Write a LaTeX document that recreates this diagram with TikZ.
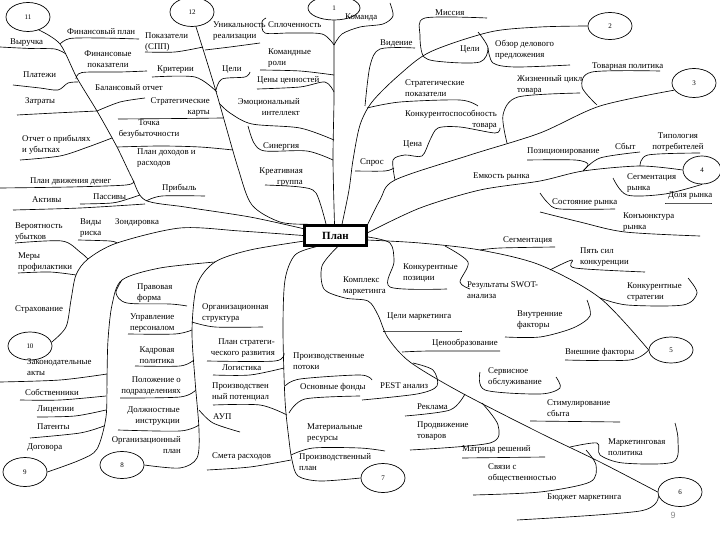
\documentclass[tikz,border=0pt]{standalone}
\usepackage{fontspec}
\setmainfont{Liberation Serif}
\newfontfamily\pagenofont{Liberation Sans}
\usetikzlibrary{shapes.geometric}

\begin{document}
\begin{tikzpicture}[x=1pt,y=-1pt,
  lbl/.style={anchor=west, inner sep=0pt, align=left, font=\fontsize{8.8}{10.5}\selectfont},
  lblr/.style={lbl, anchor=east, align=right},
  lblc/.style={lbl, anchor=center, align=center},
  oval/.style={draw, ellipse, line width=0.7pt, minimum width=44pt, minimum height=29pt, inner sep=0pt, font=\fontsize{7}{8}\selectfont},
  br/.style={line width=0.65pt}]
\fill[white] (0,0) rectangle (720,540);
\useasboundingbox (0,0) rectangle (720,540);

\node[draw, line width=2.6pt, minimum width=62pt, minimum height=20pt, font=\fontsize{11}{12}\selectfont\bfseries] (plan) at (335.5,235.5) {План};

\node[oval] (e11) at (28,17) {11};
\node[oval] (e12) at (192,12) {12};
\node[oval, minimum width=52pt, minimum height=24pt] (e1) at (334,8) {1};
\node[oval, minimum height=27pt] (e2) at (610,26) {2};
\node[oval] (e3) at (694,83) {3};
\node[oval, minimum width=38pt, minimum height=28pt] (e4) at (702,170) {4};
\node[oval, minimum height=26pt] (e5) at (671,350) {5};
\node[oval] (e6) at (680,492) {6};
\node[oval] (e7) at (383,478) {7};
\node[oval, minimum height=27pt] (e8) at (122,465) {8};
\node[oval] (e9) at (25,472) {9};
\node[oval, minimum height=28pt] (e10) at (30,346) {10};

\node[lbl] (finplan) at (67,32) {Финансовый план};
\node[lbl] (vyr) at (10,43) {Выручка};
\node[lblc] (finpok) at (108,59) {Финансовые\\показатели};
\node[lbl] (pokspp) at (145,42) {Показатели\\(СПП)};
\node[lbl] (krit) at (157,70) {Критерии};
\node[lbl] (plat) at (23,75) {Платежи};
\node[lbl] (balans) at (95,88) {Балансовый отчет};
\node[lbl] (zatr) at (25,102) {Затраты};
\node[lblr] (strkart) at (210,107) {Стратегические\\карты};
\node[lblc] (tochka) at (149,129) {Точка\\безубыточности};
\node[lbl] (otchet) at (22,145) {Отчет о прибылях\\и убытках};
\node[lbl] (pland) at (137,158) {План доходов и\\расходов};
\node[lbl] (pldv) at (30,181) {План движения денег};
\node[lbl] (prib) at (162,188) {Прибыль};
\node[lbl] (aktiv) at (32,200) {Активы};
\node[lbl] (passiv) at (93,197) {Пассивы};

\node[lbl] (unik) at (213,31) {Уникальность\\реализации};
\node[lbl] (celi1) at (222,70) {Цели};
\node[lbl] (splo) at (268,25) {Сплоченность};
\node[lbl] (komrol) at (268,58) {Командные\\роли};
\node[lbl] (ceny) at (257,80) {Цены ценностей};
\node[lblr] (emoc) at (300,107) {Эмоциональный\\интеллект};
\node[lbl] (siner) at (263,147) {Синергия};
\node[lblr] (kreat) at (303,177) {Креативная\\группа};
\node[lbl] (koman) at (345,17) {Команда};

\node[lbl] (missia) at (435,13) {Миссия};
\node[lbl] (viden) at (380,43) {Видение};
\node[lbl] (celi2) at (460,50) {Цели};
\node[lbl] (obzor) at (495,50) {Обзор делового\\предложения};
\node[lbl] (strpok) at (405,88) {Стратегические\\показатели};
\node[lbl] (zhizn) at (517,85) {Жизненный цикл\\товара};
\node[lbl] (tovpol) at (592,67) {Товарная политика};
\node[lblr] (konkur) at (497,120) {Конкурентоспособность\\товара};
\node[lbl] (cena) at (403,145) {Цена};
\node[lbl] (spros) at (360,163) {Спрос};
\node[lbl] (pozic) at (527,152) {Позиционирование};
\node[lbl] (sbyt) at (615,146) {Сбыт};
\node[lblc] (tipol) at (678,142) {Типология\\потребителей};
\node[lbl] (emkost) at (473,177) {Емкость рынка};
\node[lbl] (segmr) at (627,183) {Сегментация\\рынка};
\node[lbl] (dolya) at (668,196) {Доля рынка};
\node[lbl] (sost) at (552,203) {Состояние рынка};
\node[lbl] (konjun) at (623,222) {Конъюнктура\\рынка};

\node[lbl] (segm) at (503,240) {Сегментация};
\node[lbl] (pyat) at (580,257) {Пять сил\\конкуренции};
\node[lbl] (konstr) at (627,292) {Конкурентные\\стратегии};
\node[lbl] (vnesh) at (565,352) {Внешние факторы};
\node[lbl] (konpoz) at (403,273) {Конкурентные\\позиции};
\node[lbl] (kompl) at (343,286) {Комплекс\\маркетинга};
\node[lbl] (swot) at (467,290) {Результаты SWOT-\\анализа};
\node[lbl] (celimk) at (387,317) {Цели маркетинга};
\node[lbl] (vnutr) at (517,320) {Внутренние\\факторы};
\node[lbl] (ceno) at (432,343) {Ценообразование};

\node[lbl] (pest) at (380,386) {PEST анализ};
\node[lbl] (serv) at (488,377) {Сервисное\\обслуживание};
\node[lbl] (rekl) at (417,407) {Реклама};
\node[lbl] (stim) at (547,408) {Стимулирование\\сбыта};
\node[lbl] (prod) at (417,431) {Продвижение\\товаров};
\node[lbl] (matr) at (462,449) {Матрица решений};
\node[lbl] (mkpol) at (608,447) {Маркетинговая\\политика};
\node[lbl] (svyaz) at (488,473) {Связи с\\общественностью};
\node[lbl] (budzh) at (547,498) {Бюджет маркетинга};

\node[lbl] (prpot) at (293,361) {Производственные\\потоки};
\node[lbl] (osnf) at (300,387) {Основные фонды};
\node[lbl] (mater) at (307,433) {Материальные\\ресурсы};
\node[lbl] (prplan) at (299,462) {Производственный\\план};
\node[lbl] (orgstr) at (202,313) {Организационная\\структура};
\node[lblr] (plstr) at (275,348) {План стратеги-\\ческого развития};
\node[lbl] (logist) at (222,368) {Логистика};
\node[lbl] (prpotenc) at (212,392) {Производствен\\ный потенциал};
\node[lbl] (aup) at (213,417) {АУП};
\node[lbl] (smeta) at (212,457) {Смета расходов};

\node[lbl] (pravf) at (137,293) {Правовая\\форма};
\node[lbl] (uprp) at (130,323) {Управление\\персоналом};
\node[lblc] (kadr) at (157,355) {Кадровая\\политика};
\node[lblr] (polozh) at (181,386) {Положение о\\подразделениях};
\node[lblr] (dolzh) at (180,416) {Должностные\\инструкции};
\node[lblr] (orgpl) at (181,445) {Организационный\\план};
\node[lbl] (zakon) at (27,367) {Законодательные\\акты};
\node[lbl] (sobstv) at (25,392) {Собственники};
\node[lbl] (licen) at (37,409) {Лицензии};
\node[lbl] (patent) at (37,427) {Патенты};
\node[lbl] (dogov) at (27,448) {Договора};
\node[lbl] (veroy) at (15,232) {Вероятность\\убытков};
\node[lbl] (vidy) at (80,228) {Виды\\риска};
\node[lbl] (zond) at (115,223) {Зондировка};
\node[lbl] (mery) at (18,262) {Меры\\профилактики};
\node[lbl] (strah) at (15,310) {Страхование};

\node[font=\pagenofont\fontsize{9}{10}\selectfont, text=black!45] (pgno) at (673,515) {9};

\draw[br] plot[smooth] coordinates {(e11.-50) (60,44) (77,78) (97,111) (117,147) (132,178) (145,200) (185,207) (250,217) (plan.168)};
\draw[br] plot[smooth] coordinates {(60,44) (70,38.5) (100,38) (139,39)};
\draw[br] plot[smooth] coordinates {(0,47) (30,48.5) (55,49) (66,54)};
\draw[br] plot[smooth] coordinates {(76,79) (82,72.5) (120,72) (147,71)};
\draw[br] plot[smooth] coordinates {(13,85) (40,88) (58,90) (68,83) (78,82)};
\draw[br] plot[smooth] coordinates {(17,115) (55,113) (97,111)};
\draw[br] plot[smooth] coordinates {(97,111) (120,102) (145,98)};
\draw[br] plot[smooth] coordinates {(20,160) (60,156) (88,147) (112,138)};
\draw[br] plot[smooth] coordinates {(0,188) (70,187) (126,185) (134,181)};
\draw[br] plot[smooth] coordinates {(146,201) (162,196) (205,196)};
\draw[br] plot[smooth] coordinates {(80,204) (112,203) (128,199) (140,195)};
\draw[br] plot[smooth] coordinates {(13,210) (80,208) (145,204)};

\draw[br] plot[smooth] coordinates {(e12.-75) (215,88) (238,168) (252,205) (280,222) (plan.158)};
\draw[br] plot[smooth] coordinates {(205,50) (230,47) (260,43)};
\draw[br] plot[smooth] coordinates {(145,52) (175,52) (203,47)};
\draw[br] plot[smooth] coordinates {(216,90) (222,79) (245,77) (250,72)};
\draw[br] plot[smooth] coordinates {(152,77) (195,77) (217,92)};
\draw[br] plot[smooth] coordinates {(118,119) (180,118.5) (223,118)};
\draw[br] plot[smooth] coordinates {(117,147) (160,146) (200,147) (233,150)};
\draw[br] plot[smooth] coordinates {(220,104) (230,113) (252,124) (300,128) (334,140)};
\draw[br] plot[smooth] coordinates {(248,126) (254,143) (265,151) (307,151) (333,160)};

\draw[br] plot[smooth] coordinates {(e1.south) (334,60) (334,100) (333,160) (plan.95)};
\draw[br] plot[smooth] coordinates {(334,45) (322,34) (290,33) (265,33) (262,22) (266,18)};
\draw[br] plot[smooth] coordinates {(260,70) (300,71) (334,75)};
\draw[br] plot[smooth] coordinates {(257,89) (300,87) (325,82) (334,92)};
\draw[br] plot[smooth] coordinates {(265,185) (300,187) (316,193) (326,224)};
\draw[br] plot[smooth] coordinates {(390,3) (393,16) (383,24) (360,27) (342,34) (334,45)};

\draw[br] plot[smooth] coordinates {(plan.60) (349,190) (353,160) (360,125) (372,102) (398,76) (430,52) (490,32) (540,27) (e2.west)};
\draw[br] plot[smooth] coordinates {(415,48) (380,49) (370,66) (365,106)};
\draw[br] plot[smooth] coordinates {(367,108) (400,102) (460,100) (478,106)};
\draw[br] plot[smooth] coordinates {(487,18) (425,18) (420,35) (424,57) (445,62) (480,62) (488,48) (478,32)};
\draw[br] plot[smooth] coordinates {(488,48) (493,63) (515,67) (570,65)};

\draw[br] plot[smooth] coordinates {(plan.north east) (380,200) (395,180) (470,155) (540,133) (600,106) (e3.200)};
\draw[br] plot[smooth] coordinates {(395,180) (393,160) (405,155) (422,156) (430,140) (438,128) (460,127) (495,133) (500,128)};
\draw[br] plot[smooth] coordinates {(355,171) (385,171) (394,168)};
\draw[br] plot[smooth] coordinates {(507,143) (503,115) (518,97) (580,93)};
\draw[br] plot[smooth] coordinates {(660,71) (592,72) (582,87) (597,105)};

\draw[br] plot[smooth] coordinates {(plan.5) (420,208) (480,190) (540,181) (583,171) (640,166) (e4.west)};
\draw[br] plot[smooth] coordinates {(527,160) (575,160) (588,164) (583,171)};
\draw[br] plot[smooth] coordinates {(583,171) (600,158) (640,152)};
\draw[br] plot[smooth] coordinates {(640,166) (648,155) (700,153)};
\draw[br] plot[smooth] coordinates {(613,178) (627,195) (665,194) (e4.south)};
\draw[br] plot[smooth] coordinates {(665,203) (712,203)};
\draw[br] plot[smooth] coordinates {(540,193) (548,203) (560,209) (615,209)};
\draw[br] plot[smooth] coordinates {(540,212) (580,222) (625,232) (700,236)};

\draw[br] plot[smooth] coordinates {(plan.-8) (420,243) (480,250) (540,265) (600,298) (e5.west)};
\draw[br] plot[smooth] coordinates {(480,250) (500,248) (555,247)};
\draw[br] plot[smooth] coordinates {(550,270) (572,260) (575,268) (645,272)};
\draw[br] plot[smooth] coordinates {(600,298) (627,305) (683,305) (697,293) (688,278)};
\draw[br] plot[smooth] coordinates {(565,360) (630,360) (e5.west)};
\draw[br] plot[smooth] coordinates {(445,246) (468,262) (460,282) (470,289)};
\draw[br] plot[smooth] coordinates {(368,237) (390,243) (394,262) (390,287) (447,289)};
\draw[br] plot[smooth] coordinates {(587,300) (590,316) (573,328) (540,337) (505,337)};

\draw[br] plot[smooth] coordinates {(plan.-80) (322,266) (324,289) (345,298) (368,301) (378,315) (388,338) (410,362) (460,392) (540,433) (600,462) (e6.west)};
\draw[br] plot[smooth] coordinates {(383,331) (420,331) (462,331)};
\draw[br] plot[smooth] coordinates {(402,352) (430,351) (500,351)};
\draw[br] plot[smooth] coordinates {(362,400) (417,394) (437,386) (433,370) (413,363)};
\draw[br] plot[smooth] coordinates {(405,416) (450,410) (465,394)};
\draw[br] plot[smooth] coordinates {(410,450) (490,443) (498,425) (482,403)};
\draw[br] plot[smooth] coordinates {(462,458) (545,457)};
\draw[br] plot[smooth] coordinates {(480,372) (485,390) (540,394) (560,388) (556,377)};
\draw[br] plot[smooth] coordinates {(530,421) (620,422)};
\draw[br] plot[smooth] coordinates {(570,447) (597,443) (600,455) (623,463) (673,462) (678,440) (675,423)};
\draw[br] plot[smooth] coordinates {(473,495) (540,492) (590,482) (596,465) (586,450)};
\draw[br] plot[smooth] coordinates {(517,520) (640,511) (e6.190)};

\draw[br] plot[smooth] coordinates {(plan.-150) (295,255) (285,280) (283,330) (285,400) (289,440) (292,460) (298,476) (320,481) (e7.west)};
\draw[br] plot[smooth] coordinates {(285,386) (300,379) (360,375) (372,380)};
\draw[br] plot[smooth] coordinates {(289,413) (305,399) (360,396)};
\draw[br] plot[smooth] coordinates {(291,455) (313,448) (360,448) (385,451)};
\draw[br] plot[smooth] coordinates {(213,375) (250,375) (284,368)};
\draw[br] plot[smooth] coordinates {(213,405) (260,405) (287,415)};
\draw[br] plot[smooth] coordinates {(207,470) (250,467) (291,460)};
\draw[br] plot[smooth] coordinates {(207,361) (275,361) (284,353)};

\draw[br] plot[smooth] coordinates {(plan.190) (250,250) (215,262) (197,285) (192,330) (195,380) (199,430) (197,458) (180,468) (e8.east)};
\draw[br] plot[smooth] coordinates {(192,322) (215,327) (263,327)};
\draw[br] plot[smooth] coordinates {(199,410) (213,423) (240,432)};
\draw[br] plot[smooth] coordinates {(128,334) (175,334) (192,330)};
\draw[br] plot[smooth] coordinates {(135,366) (180,366) (194,360)};
\draw[br] plot[smooth] coordinates {(120,398) (180,397) (196,390)};
\draw[br] plot[smooth] coordinates {(118,430) (180,431) (199,425)};

\draw[br] plot[smooth] coordinates {(e9.east) (80,460) (97,449) (106,417) (107,377) (108,340) (112,305) (122,280) (160,268) (215,262)};
\draw[br] plot[smooth] coordinates {(0,382) (60,380) (107,374)};
\draw[br] plot[smooth] coordinates {(20,400) (60,400) (106,396)};
\draw[br] plot[smooth] coordinates {(37,417) (75,416) (106,410)};
\draw[br] plot[smooth] coordinates {(30,438) (80,433) (104,426)};
\draw[br] plot[smooth] coordinates {(122,280) (116,293) (127,303) (170,304) (187,306)};

\draw[br] plot[smooth] coordinates {(e10.10) (66,327) (71,300) (76,275) (88,259) (117,243) (180,228) (240,231) (plan.180)};
\draw[br] plot[smooth] coordinates {(15,243) (62,241) (80,252) (88,259)};
\draw[br] plot[smooth] coordinates {(78,240) (110,241) (117,243)};
\draw[br] plot[smooth] coordinates {(18,273) (50,272) (76,275)};
\end{tikzpicture}
\end{document}
